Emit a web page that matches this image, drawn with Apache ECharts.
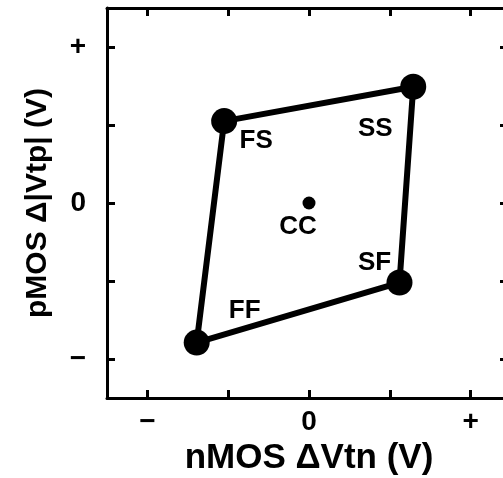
<!DOCTYPE html>
<html>
<head>
<meta charset="utf-8">
<script src="https://cdn.jsdelivr.net/npm/echarts@6/dist/echarts.min.js"></script>
<style>
  html, body { margin: 0; padding: 0; background: #fff; }
  #chart { width: 503px; height: 478px; }
</style>
</head>
<body>
<div id="chart"></div>
<script>
// Process corners: threshold-voltage shift of nMOS (x) and pMOS (y)
const corners = ['FS', 'SS', 'SF', 'FF'];
const nmosShift = [-1.05, 1.29, 1.12, -1.39];
const pmosShift = [1.05, 1.49, -1.02, -1.79];

// Typical (centre) corner
const centreName = 'CC';
const centreN = 0;
const centreP = 0;

// Axis ticks and their text
const tickValues = [-2, -1, 0, 1, 2];
const labelValues = [-2, 0, 2];
const tickLabels = ['\u2212', '0', '+'];

// Label placement relative to each dot (pixels)
const labelOffsets = {
  FS: [32, 20],
  SS: [-38, 42],
  SF: [-25, -20],
  FF: [48, -32],
  CC: [-11, 24]
};

const FONT = '"Liberation Sans", Arial, Helvetica, sans-serif';

function tickText(v) {
  const i = labelValues.indexOf(v);
  return i >= 0 ? tickLabels[i] : '';
}

// Closed outline through the four corners
const outline = corners.map((c, i) => [nmosShift[i], pmosShift[i]]);
outline.push(outline[0]);

const dots = corners.map((c, i) => ({
  name: c,
  value: [nmosShift[i], pmosShift[i]],
  symbolSize: 26,
  label: { offset: labelOffsets[c] }
}));
dots.push({
  name: centreName,
  value: [centreN, centreP],
  symbolSize: 13,
  label: { offset: labelOffsets[centreName] }
});

function axisBase(tickLen) {
  return {
    type: 'value',
    min: -2.5,
    max: 2.5,
    splitLine: { show: false },
    axisLine: { show: true, onZero: false, lineStyle: { color: '#000', width: 3 } },
    axisTick: {
      show: true, inside: true, length: tickLen,
      customValues: tickValues,
      lineStyle: { color: '#000', width: 3 }
    }
  };
}

const chart = echarts.init(document.getElementById('chart'), null, { renderer: 'canvas' });
chart.setOption({
  animation: false,
  backgroundColor: '#fff',
  grid: {
    left: 107, top: 8, width: 404, height: 390,
    containLabel: false, outerBoundsMode: 'none'
  },
  xAxis: [
    Object.assign(axisBase(8), {
      position: 'bottom',
      name: 'nMOS \u0394Vtn (V)',
      nameLocation: 'middle',
      nameGap: 39,
      nameTextStyle: { fontFamily: FONT, fontWeight: 'bold', fontSize: 35, color: '#000' },
      axisLabel: {
        show: true, customValues: labelValues, formatter: tickText, margin: 10,
        fontFamily: FONT, fontWeight: 'bold', fontSize: 28, color: '#000'
      }
    }),
    Object.assign(axisBase(8), { position: 'top', axisLabel: { show: false } })
  ],
  yAxis: [
    Object.assign(axisBase(8), {
      position: 'left',
      name: 'pMOS \u0394|Vtp| (V)',
      nameLocation: 'middle',
      nameGap: 54,
      nameTextStyle: { fontFamily: FONT, fontWeight: 'bold', fontSize: 30, color: '#000' },
      axisLabel: {
        show: true, customValues: labelValues, formatter: tickText, margin: 21,
        fontFamily: FONT, fontWeight: 'bold', fontSize: 28, color: '#000'
      }
    }),
    Object.assign(axisBase(11), { position: 'right', axisLabel: { show: false } })
  ],
  series: [
    {
      type: 'line',
      data: outline,
      symbol: 'none',
      lineStyle: { color: '#000', width: 6 },
      z: 2
    },
    {
      type: 'scatter',
      data: dots,
      symbol: 'circle',
      itemStyle: { color: '#000', opacity: 1 },
      label: {
        show: true,
        position: 'inside',
        formatter: p => p.name,
        fontFamily: FONT, fontWeight: 'bold', fontSize: 26, color: '#000'
      },
      z: 3
    }
  ]
});
</script>
</body>
</html>
